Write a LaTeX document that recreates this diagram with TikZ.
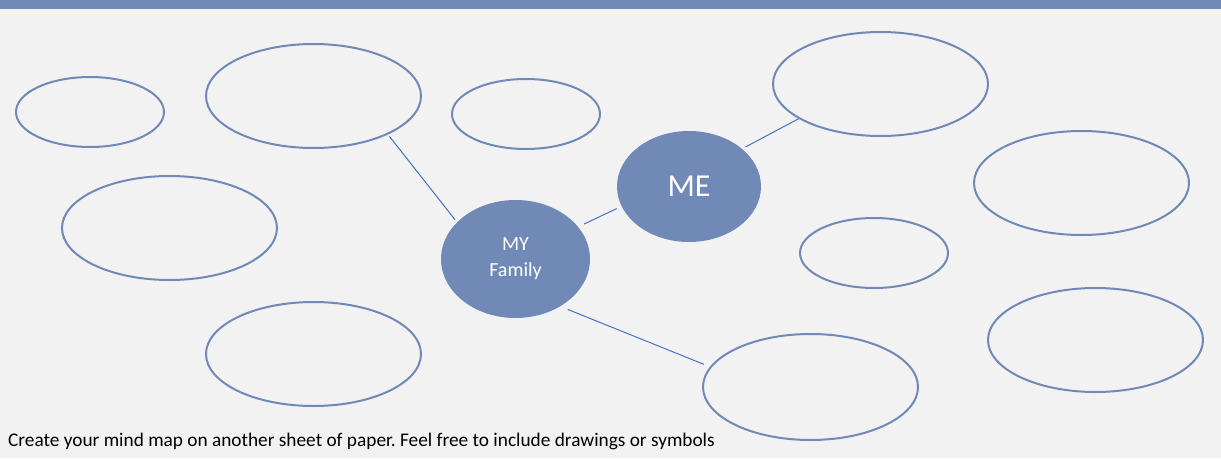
\documentclass[tikz,border=0pt]{standalone}
\usepackage{fontspec}
\setmainfont{Carlito}
\frenchspacing
\usetikzlibrary{shapes.geometric,calc}
\definecolor{bg}{HTML}{F2F2F2}
\definecolor{bar}{HTML}{7189B6}
\definecolor{ringc}{HTML}{7189B6}
\definecolor{linkc}{HTML}{4472C4}
\tikzset{
  bubble/.style={ellipse, draw=ringc, line width=2pt, inner sep=0pt, outer sep=0pt},
  big/.style={bubble, minimum width=215pt, minimum height=104pt},
  small/.style={bubble, minimum width=148pt, minimum height=70pt},
  core/.style={ellipse, fill=ringc, draw=none, inner sep=0pt, outer sep=0pt, text=white},
  link/.style={draw=linkc, line width=1pt}
}
\begin{document}
\begin{tikzpicture}[x=1pt,y=-1pt]
\useasboundingbox (0,0) rectangle (1221,458);
\fill[bg] (0,0) rectangle (1221,458);
\fill[bar] (0,0) rectangle (1221,9);

\node[small] (e1) at (90,112) {};
\node[big] (e2) at (313.5,96) {};
\node[small] (e3) at (526,114) {};
\node[big] (e4) at (169.5,228) {};
\node[big] (e5) at (313.5,354) {};
\node[big] (e6) at (880.5,84) {};
\node[big] (e7) at (1081.5,183) {};
\node[small] (e8) at (874,253) {};
\node[big] (e9) at (1095.5,340) {};
\node[big, minimum height=106pt] (e10) at (810.5,387) {};

\node[core, minimum width=144pt, minimum height=111pt, font=\fontsize{32}{38}\selectfont] (me) at (689,186.5) {ME};
\node[core, minimum width=149pt, minimum height=118pt, align=center, font=\fontsize{20}{26}\selectfont] (my) at (515.5,259) {MY\\Family};

\draw[link] ($(e2.center)!1.05!(e2.-28)$) -- ($(my.center)!1.05!(my.147.5)$);
\draw[link] ($(my.center)!1.095!(my.27)$) -- ($(me.center)!1.08!(me.197.4)$);
\draw[link] ($(me.center)!1.06!(me.35.4)$) -- ($(e6.center)!1.015!(e6.203.5)$);
\draw[link] ($(my.center)!1.105!(my.-44.9)$) -- ($(e10.center)!1.08!(e10.168.9)$);

\node[anchor=base west, inner sep=0pt, font=\fontsize{19.3}{23}\selectfont] (note) at (8,446) {Create your mind map on another sheet of paper. Feel free to include drawings or symbols};
\end{tikzpicture}
\end{document}
